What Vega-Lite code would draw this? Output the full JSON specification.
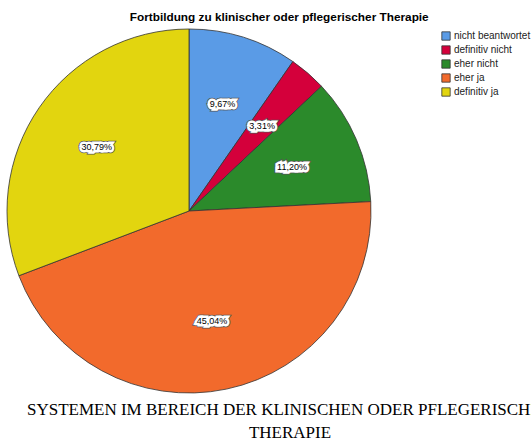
{
  "$schema": "https://vega.github.io/schema/vega-lite/v6.json",
  "width": 364,
  "height": 364,
  "autosize": {"type": "none"},
  "padding": {"left": 7, "top": 29, "right": 160, "bottom": 48},
  "background": "white",
  "title": {
    "text": "Fortbildung zu klinischer oder pflegerischer Therapie",
    "orient": "top",
    "anchor": "middle",
    "frame": "bounds",
    "font": "Liberation Sans",
    "fontSize": 11.8,
    "fontWeight": "bold",
    "color": "#000000",
    "offset": 4
  },
  "data": {
    "values": [
      {"antwort": "nicht beantwortet", "ord": 1, "pct": 9.67, "label": "9,67%"},
      {"antwort": "definitiv nicht", "ord": 2, "pct": 3.31, "label": "3,31%"},
      {"antwort": "eher nicht", "ord": 3, "pct": 11.20, "label": "11,20%"},
      {"antwort": "eher ja", "ord": 4, "pct": 45.04, "label": "45,04%"},
      {"antwort": "definitiv ja", "ord": 5, "pct": 30.79, "label": "30,79%"}
    ]
  },
  "layer": [
    {
      "mark": {"type": "arc", "stroke": "#333333", "strokeWidth": 0.8},
      "encoding": {
        "theta": {"field": "pct", "type": "quantitative", "stack": true},
        "order": {"field": "ord", "type": "quantitative"},
        "color": {
          "field": "antwort",
          "type": "nominal",
          "scale": {
            "domain": ["nicht beantwortet", "definitiv nicht", "eher nicht", "eher ja", "definitiv ja"],
            "range": ["#5a9be6", "#d4003b", "#2b8a2b", "#f26a2c", "#e2d50f"]
          },
          "legend": {
            "title": null,
            "orient": "none",
            "legendX": 434,
            "legendY": 2,
            "symbolType": "square",
            "symbolSize": 70,
            "symbolStrokeColor": "#333333",
            "symbolStrokeWidth": 0.8,
            "symbolOpacity": 1,
            "labelFont": "Liberation Sans",
            "labelFontSize": 10,
            "labelColor": "#222222",
            "labelOffset": 3,
            "rowPadding": 2
          }
        }
      }
    },
    {
      "mark": {"type": "text", "radius": 112, "font": "Liberation Sans", "fontSize": 9, "stroke": "#555555", "strokeWidth": 6.5, "strokeJoin": "miter", "fill": "#555555"},
      "encoding": {
        "theta": {"field": "pct", "type": "quantitative", "stack": true},
        "order": {"field": "ord", "type": "quantitative"},
        "text": {"field": "label"}
      }
    },
    {
      "mark": {"type": "text", "radius": 112, "font": "Liberation Sans", "fontSize": 9, "stroke": "#ffffff", "strokeWidth": 5, "strokeJoin": "miter", "fill": "#ffffff"},
      "encoding": {
        "theta": {"field": "pct", "type": "quantitative", "stack": true},
        "order": {"field": "ord", "type": "quantitative"},
        "text": {"field": "label"}
      }
    },
    {
      "mark": {"type": "text", "radius": 112, "font": "Liberation Sans", "fontSize": 9, "fill": "#000000"},
      "encoding": {
        "theta": {"field": "pct", "type": "quantitative", "stack": true},
        "order": {"field": "ord", "type": "quantitative"},
        "text": {"field": "label"}
      }
    },
    {
      "data": {"values": [{"caption": "SYSTEMEN IM BEREICH DER KLINISCHEN ODER PFLEGERISCHEN\nTHERAPIE"}]},
      "mark": {
        "type": "text",
        "font": "Liberation Serif",
        "fontSize": 17,
        "align": "center",
        "baseline": "alphabetic",
        "lineBreak": "\n",
        "lineHeight": 23,
        "dx": 101,
        "dy": 204,
        "fill": "#000000"
      },
      "encoding": {"text": {"field": "caption"}}
    }
  ],
  "config": {"view": {"stroke": null}}
}
